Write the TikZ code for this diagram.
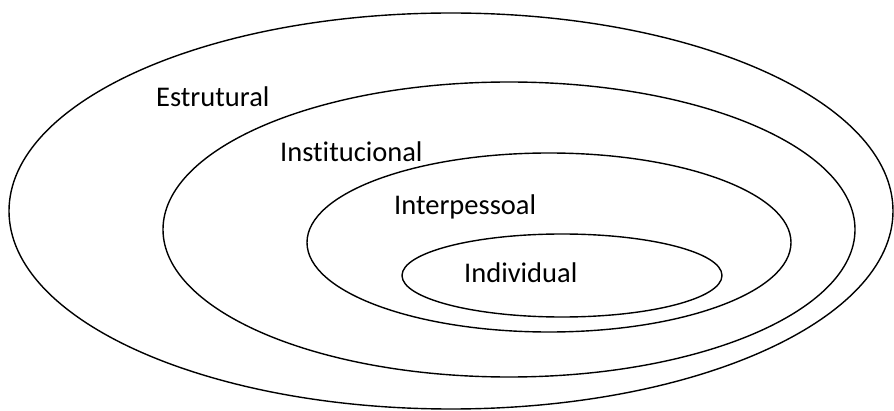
\documentclass[tikz,border=0pt]{standalone}
\usepackage{fontspec}
\setmainfont[Ligatures=NoCommon]{Carlito}
\usepackage{tikz}
\usetikzlibrary{shapes.geometric, positioning}
\tikzset{
    ellipsenode/.style = {draw, ellipse, inner sep = 0em, line width=1.4pt},
    textnode/.style  = {draw=none, fill=none, rectangle, minimum size=0cm, inner sep = 0em,
      anchor=base west, font=\fontsize{28.5pt}{34pt}\selectfont}
}

\begin{document}
\begin{tikzpicture}[x=1pt, y=1pt]
    \useasboundingbox (0,0) rectangle (894,410);

    % nested levels
    \node [name=estrutural, ellipsenode, minimum width=884pt, minimum height=396pt] at (451,199) {};
    \node [name=institucional, ellipsenode, minimum width=692pt, minimum height=295pt] at (509,180.5) {};
    \node [name=interpessoal, ellipsenode, minimum width=484pt, minimum height=179pt] at (549,167.5) {};
    \node [name=individual, ellipsenode, minimum width=320pt, minimum height=83pt] at (562,134.5) {};

    % labels
    \node [name=estruturaltext, textnode] at (156,303) {Estrutural};
    \node [name=institucionaltext, textnode] at (280,248) {Institucional};
    \node [name=interpessoaltext, textnode] at (394,195) {Interpessoal};
    \node [name=individualtext, textnode] at (464,128) {Individual};
\end{tikzpicture}
\end{document}
